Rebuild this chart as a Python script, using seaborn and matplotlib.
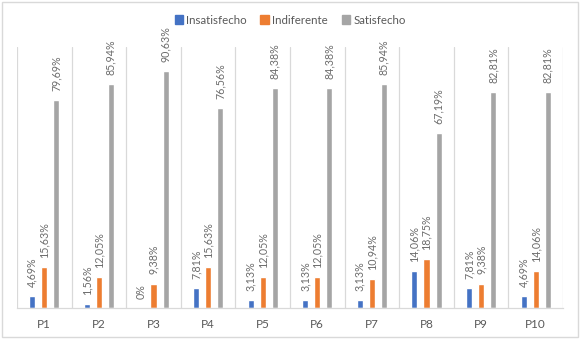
import matplotlib
matplotlib.use("Agg")
import matplotlib.pyplot as plt
import seaborn as sns
import pandas as pd
from matplotlib.patches import Rectangle

categories = ["P1", "P2", "P3", "P4", "P5", "P6", "P7", "P8", "P9", "P10"]
series_names = ["Insatisfecho", "Indiferente", "Satisfecho"]
insatisfecho = [4.69, 1.56, 0, 7.81, 3.13, 3.13, 3.13, 14.06, 7.81, 4.69]
indiferente = [15.63, 12.05, 9.38, 15.63, 12.05, 12.05, 10.94, 18.75, 9.38, 14.06]
satisfecho = [79.69, 85.94, 90.63, 76.56, 84.38, 84.38, 85.94, 67.19, 82.81, 82.81]
colors = ["#4472C4", "#ED7D31", "#A5A5A5"]

rows = []
for name, vals in zip(series_names, [insatisfecho, indiferente, satisfecho]):
    for c, v in zip(categories, vals):
        rows.append({"cat": c, "val": v, "serie": name})
df = pd.DataFrame(rows)

sns.set_theme(style="white")
plt.rcParams["font.family"] = ["Lato", "DejaVu Sans"]

fig = plt.figure(figsize=(5.8, 3.39), dpi=100)
ax = fig.add_axes([17/580, 31/339, 546/580, 261/339])

sns.barplot(data=df, x="cat", y="val", hue="serie", order=categories,
            hue_order=series_names, palette=colors, width=0.66, gap=0.5,
            saturation=1, ax=ax, legend=False, errorbar=None)

def fmt(v):
    if v == 0:
        return "0%"
    return f"{v:.2f}".replace(".", ",") + "%"

for cont, vals in zip(ax.containers, [insatisfecho, indiferente, satisfecho]):
    ax.bar_label(cont, labels=[fmt(v) for v in vals], rotation=90,
                 padding=6.5, fontsize=7.7, color="#6b6b6b")

ax.set_ylim(0, 100)
ax.set_xlim(-0.5, len(categories) - 0.5)
ax.set_xlabel("")
ax.set_ylabel("")
ax.set_yticks([])
for i in range(len(categories) + 1):
    ax.axvline(i - 0.5, color="#D9D9D9", lw=0.9, zorder=0)
for s in ["left", "right", "top"]:
    ax.spines[s].set_visible(False)
ax.spines["bottom"].set_color("#D9D9D9")
ax.spines["bottom"].set_linewidth(0.9)
ax.tick_params(axis="x", length=0, pad=8, labelsize=8.5, labelcolor="#595959")

handles = [Rectangle((0, 0), 1, 1, color=c) for c in colors]
fig.legend(handles, series_names, loc="center", bbox_to_anchor=(0.5, 1 - 20/339),
           ncol=3, frameon=False, fontsize=8.3, handlelength=0.7, handleheight=0.7,
           handletextpad=0.3, columnspacing=1.2, labelcolor="#595959")

fig.patches.append(Rectangle((0.004, 0.006), 0.992, 0.988, transform=fig.transFigure,
                             fill=False, edgecolor="#D9D9D9", lw=1))
fig.savefig("out.png", dpi=100)
